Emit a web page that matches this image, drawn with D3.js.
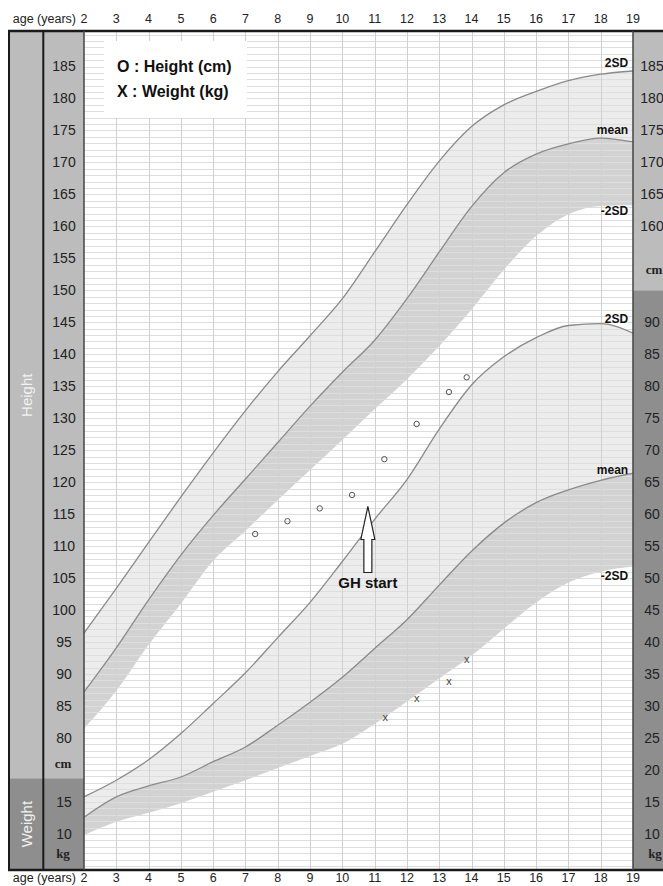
<!DOCTYPE html>
<html>
<head>
<meta charset="utf-8">
<script src="https://cdn.jsdelivr.net/npm/d3@7.9.0/dist/d3.min.js"></script>
<style>
  html, body { margin: 0; padding: 0; background: #fff; }
  svg { display: block; font-family: "Liberation Sans", Arial, sans-serif; }
</style>
</head>
<body>
<svg id="chart" width="663" height="886"></svg>
<script>
// reference curves at whole years
const ages = d3.range(2, 20);
const heightPlus2SD  = [96.4, 103.4, 110.6, 117.7, 124.6, 131.2, 137.3, 142.9, 148.7, 156.0, 163.4, 170.2, 175.6, 179.0, 181.1, 182.8, 183.8, 184.3];
const heightMean     = [87.2, 94.1, 101.6, 108.6, 114.8, 120.5, 126.2, 131.9, 137.2, 142.2, 148.7, 156.0, 163.1, 168.4, 171.3, 172.9, 173.8, 173.2];
const heightMinus2SD = [81.5, 87.4, 94.6, 101.0, 107.7, 112.4, 117.2, 121.9, 126.6, 131.4, 136.1, 141.3, 147.0, 153.2, 158.5, 161.9, 163.2, 163.3];
const weightPlus2SD  = [15.8, 18.4, 21.6, 25.7, 30.4, 35.2, 40.7, 46.2, 52.6, 59.2, 65.4, 73.3, 80.2, 84.6, 87.6, 89.5, 89.8, 88.3];
const weightMean     = [12.6, 15.8, 17.5, 18.9, 21.3, 23.6, 27.0, 30.6, 34.5, 39.0, 43.5, 48.9, 54.2, 58.6, 61.8, 63.8, 65.3, 66.4];
const weightMinus2SD = [9.8, 11.9, 13.3, 14.8, 16.6, 18.4, 20.3, 22.2, 24.1, 27.2, 30.7, 34.3, 37.9, 42.1, 46.2, 49.3, 51.0, 51.8];

// patient measurements
const heightAges   = [7.3, 8.3, 9.3, 10.3, 11.3, 12.3, 13.3, 13.85];
const heightValues = [111.9, 113.9, 115.9, 118.0, 123.6, 129.1, 134.1, 136.4];
const weightAges   = [11.33, 12.3, 13.3, 13.85];
const weightValues = [28.1, 31.2, 33.8, 37.2];

const gh = { age: 10.79, height: 116.2, label: 'GH start' };

// tick labels
const heightTicksLeft = d3.range(80, 186, 5);
const heightTicksRight = d3.range(160, 186, 5);
const weightTicksLeft = [15, 10];
const weightTicksRight = d3.range(10, 91, 5);

// curve end labels: [text, age, value, which scale]
const curveLabels = [
  ['2SD', 18.85, 185.55, 'h'], ['mean', 18.85, 175.05, 'h'], ['-2SD', 18.85, 162.4, 'h'],
  ['2SD', 18.85, 90.5, 'w'], ['mean', 18.85, 67.0, 'w'], ['-2SD', 18.85, 50.3, 'w'],
];

const svg = d3.select('#chart');
const plotLeft = 84, plotRight = 633, plotTop = 31, plotBottom = 870;

const x = d3.scaleLinear().domain([2, 19]).range([plotLeft, plotRight]);
const yH = d3.scaleLinear().domain([185, 80]).range([66.5, 738]);
const yW = d3.scaleLinear().domain([90, 10]).range([yH(145), yH(65)]);

// side columns
const lightCol = '#bcbcbc', darkCol = '#8e8e8e';
const splitL = yH(73.7), splitR = yH(150);
svg.append('rect').attr('x', 9).attr('y', plotTop).attr('width', plotLeft - 9).attr('height', splitL - plotTop).attr('fill', lightCol);
svg.append('rect').attr('x', 9).attr('y', splitL).attr('width', plotLeft - 9).attr('height', plotBottom - splitL).attr('fill', darkCol);
svg.append('rect').attr('x', plotRight).attr('y', plotTop).attr('width', 663 - plotRight).attr('height', splitR - plotTop).attr('fill', lightCol);
svg.append('rect').attr('x', plotRight).attr('y', splitR).attr('width', 663 - plotRight).attr('height', plotBottom - splitR).attr('fill', darkCol);

svg.append('clipPath').attr('id', 'plot').append('rect')
  .attr('x', plotLeft).attr('y', plotTop).attr('width', plotRight - plotLeft).attr('height', plotBottom - plotTop);
const plot = svg.append('g').attr('clip-path', 'url(#plot)');

const curve = d3.curveMonotoneX;
function band(upper, lower, scale, fill) {
  const area = d3.area()
    .x((d, i) => x(ages[i]))
    .y0((d, i) => scale(lower[i]))
    .y1((d, i) => scale(upper[i]))
    .curve(curve);
  plot.append('path').datum(ages).attr('d', area).attr('fill', fill);
}
band(heightPlus2SD, heightMean, yH, '#ececec');
band(heightMean, heightMinus2SD, yH, '#d2d2d2');
band(weightPlus2SD, weightMean, yW, '#ececec');
band(weightMean, weightMinus2SD, yW, '#d2d2d2');

// grid
const grid = plot.append('g');
grid.selectAll('line.h').data(d3.range(59, 191, 1)).join('line')
  .attr('x1', plotLeft).attr('x2', plotRight)
  .attr('y1', (d) => Math.round(yH(d)) + 0.5).attr('y2', (d) => Math.round(yH(d)) + 0.5)
  .attr('stroke', '#dedede').attr('stroke-width', 1);
grid.selectAll('line.v').data(d3.range(3, 19)).join('line')
  .attr('y1', plotTop).attr('y2', plotBottom)
  .attr('x1', (d) => Math.round(x(d)) + 0.5).attr('x2', (d) => Math.round(x(d)) + 0.5)
  .attr('stroke', '#d0d0d0').attr('stroke-width', 1);

// legend box
svg.append('rect').attr('x', 104).attr('y', 41).attr('width', 143).attr('height', 77).attr('fill', '#fff');
svg.append('text').attr('x', 117).attr('y', 66).attr('dy', '0.35em')
  .attr('font-size', 16).attr('font-weight', 'bold').attr('fill', '#111').text('O : Height (cm)');
svg.append('text').attr('x', 117).attr('y', 91).attr('dy', '0.35em')
  .attr('font-size', 16).attr('font-weight', 'bold').attr('fill', '#111').text('X : Weight (kg)');

// curves
function line(values, scale) {
  const gen = d3.line().x((d, i) => x(ages[i])).y((d, i) => scale(values[i])).curve(curve);
  plot.append('path').datum(ages).attr('d', gen)
    .attr('fill', 'none').attr('stroke', '#8a8a8a').attr('stroke-width', 1.3);
}
line(heightPlus2SD, yH);
line(heightMean, yH);
line(weightPlus2SD, yW);
line(weightMean, yW);

svg.append('g').selectAll('text').data(curveLabels).join('text')
  .attr('x', (d) => x(d[1])).attr('y', (d) => (d[3] === 'h' ? yH(d[2]) : yW(d[2])))
  .attr('dy', '0.35em').attr('text-anchor', 'end')
  .attr('font-size', 12).attr('font-weight', 'bold').attr('fill', '#111')
  .text((d) => d[0]);

// measurements
svg.append('g').selectAll('circle').data(heightAges).join('circle')
  .attr('cx', (d) => x(d)).attr('cy', (d, i) => yH(heightValues[i]))
  .attr('r', 2.7).attr('fill', 'none').attr('stroke', '#555').attr('stroke-width', 1);
svg.append('g').selectAll('text').data(weightAges).join('text')
  .attr('x', (d) => x(d)).attr('y', (d, i) => yW(weightValues[i]))
  .attr('dy', '0.3em').attr('text-anchor', 'middle')
  .attr('font-size', 11).attr('fill', '#444').text('x');

// GH start arrow
const ax = x(gh.age), ay = yH(gh.height);
svg.append('path')
  .attr('d', `M${ax},${ay} L${ax + 7},${ay + 33} L${ax + 4},${ay + 33} L${ax + 4},${ay + 66} L${ax - 4},${ay + 66} L${ax - 4},${ay + 33} L${ax - 7},${ay + 33} Z`)
  .attr('fill', '#fff').attr('stroke', '#222').attr('stroke-width', 1.2).attr('stroke-linejoin', 'miter');
svg.append('text').attr('x', ax).attr('y', ay + 76).attr('dy', '0.35em')
  .attr('text-anchor', 'middle').attr('font-size', 15).attr('font-weight', 'bold').attr('fill', '#111')
  .text(gh.label);

// side labels
const tickFont = 14;
svg.append('g').selectAll('text').data(heightTicksLeft).join('text')
  .attr('x', 64).attr('y', (d) => yH(d)).attr('dy', '0.35em').attr('text-anchor', 'middle')
  .attr('font-size', tickFont).attr('fill', '#222').text((d) => d);
svg.append('g').selectAll('text').data(weightTicksLeft).join('text')
  .attr('x', 64).attr('y', (d) => yW(d)).attr('dy', '0.35em').attr('text-anchor', 'middle')
  .attr('font-size', tickFont).attr('fill', '#222').text((d) => d);
svg.append('g').selectAll('text').data(heightTicksRight).join('text')
  .attr('x', 652).attr('y', (d) => yH(d)).attr('dy', '0.35em').attr('text-anchor', 'middle')
  .attr('font-size', tickFont).attr('fill', '#222').text((d) => d);
svg.append('g').selectAll('text').data(weightTicksRight).join('text')
  .attr('x', 652).attr('y', (d) => yW(d)).attr('dy', '0.35em').attr('text-anchor', 'middle')
  .attr('font-size', tickFont).attr('fill', '#222').text((d) => d);

const unit = (tx, ty, t) => svg.append('text').attr('x', tx).attr('y', ty).attr('dy', '0.35em')
  .attr('text-anchor', 'middle').attr('font-family', '"Liberation Serif", serif')
  .attr('font-size', 13).attr('font-weight', 'bold').attr('fill', '#222').text(t);
unit(63, yH(76), 'cm');
unit(63, yW(7), 'kg');
unit(654, yH(153.2), 'cm');
unit(655, yW(7), 'kg');

svg.append('text').attr('transform', `translate(27,${yH(133.6)}) rotate(-90)`)
  .attr('dy', '0.35em').attr('text-anchor', 'middle').attr('font-size', 15).attr('fill', '#f2f2f2').text('Height');
svg.append('text').attr('transform', `translate(27,${(splitL + plotBottom) / 2}) rotate(-90)`)
  .attr('dy', '0.35em').attr('text-anchor', 'middle').attr('font-size', 15).attr('fill', '#f2f2f2').text('Weight');

// age labels top and bottom
[19, 878].forEach((ty) => {
  const g = svg.append('g');
  g.selectAll('text').data(ages).join('text')
    .attr('x', (d) => x(d)).attr('y', ty).attr('dy', '0.35em').attr('text-anchor', 'middle')
    .attr('font-size', 12.5).attr('fill', '#222').text((d) => d);
  g.append('text').attr('x', 76).attr('y', ty).attr('dy', '0.35em').attr('text-anchor', 'end')
    .attr('font-size', 12.5).attr('fill', '#222').text('age (years)');
});

// frame
const frame = svg.append('g').attr('stroke', '#1a1a1a');
frame.append('line').attr('x1', 8).attr('x2', 663).attr('y1', plotTop).attr('y2', plotTop).attr('stroke-width', 2.5);
frame.append('line').attr('x1', 8).attr('x2', 663).attr('y1', plotBottom).attr('y2', plotBottom).attr('stroke-width', 2.5);
frame.append('line').attr('x1', 9).attr('x2', 9).attr('y1', plotTop).attr('y2', plotBottom).attr('stroke-width', 2);
frame.append('line').attr('x1', 43.3).attr('x2', 43.3).attr('y1', plotTop).attr('y2', plotBottom).attr('stroke-width', 2);
frame.append('line').attr('x1', plotLeft).attr('x2', plotLeft).attr('y1', plotTop).attr('y2', plotBottom).attr('stroke-width', 1.5).attr('stroke', '#444');
frame.append('line').attr('x1', plotRight).attr('x2', plotRight).attr('y1', plotTop).attr('y2', plotBottom).attr('stroke-width', 1.5).attr('stroke', '#444');
</script>
</body>
</html>
